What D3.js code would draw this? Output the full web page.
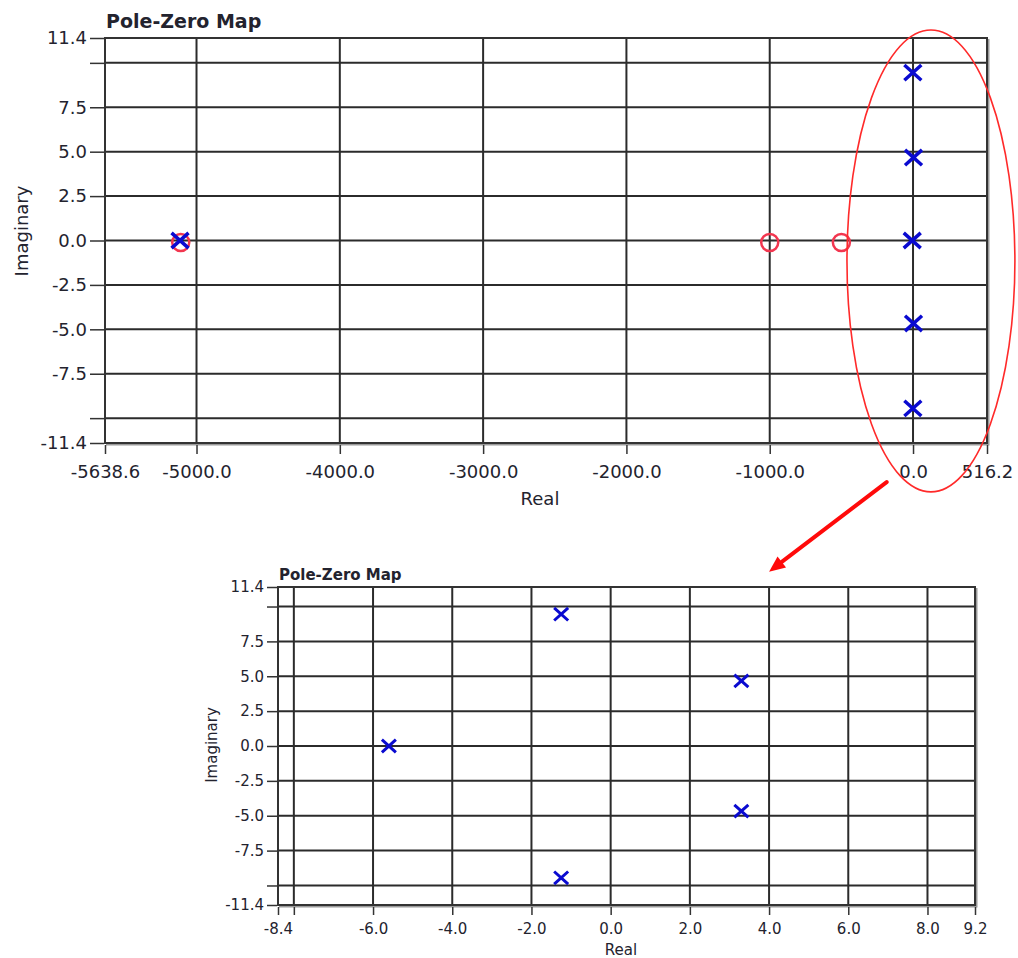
<!DOCTYPE html>
<html>
<head>
<meta charset="utf-8">
<script src="https://cdn.jsdelivr.net/npm/d3@7"></script>
<style>
  body { margin: 0; background: #fff; }
  text { font-family: "DejaVu Sans", sans-serif; fill: #23232e; }
</style>
</head>
<body>
<svg id="chart"></svg>
<script>
// poles and zeros (real, imaginary)
var poleRe = [-5115, -5.6, -1.25, -1.25, 3.3, 3.3];
var poleIm = [0, 0, 9.45, -9.45, 4.67, -4.67];
var zeroRe = [-5110, -1000, -500];
var zeroIm = [0, 0, 0];

// axis ranges and ticks
var topXDomain = [-5638.6, 516.2];
var topXTicks = [-5638.6, -5000, -4000, -3000, -2000, -1000, 0, 516.2];
var topXGrid = [-5000, -4000, -3000, -2000, -1000, 0];
var lowXDomain = [-8.4, 9.2];
var lowXTicks = [-8.4, -8, -6, -4, -2, 0, 2, 4, 6, 8, 9.2];
var lowXGrid = [-8, -6, -4, -2, 0, 2, 4, 6, 8];
var lowXHidden = [-8];
var yDomain = [-11.4, 11.4];
var yTicks = [-11.4, -10, -7.5, -5, -2.5, 0, 2.5, 5, 7.5, 10, 11.4];
var yGrid = [-10, -7.5, -5, -2.5, 0, 2.5, 5, 7.5, 10];
var yHidden = [10, -10];

// annotation: ellipse on the upper map (center re/im, radius re/im)
var ringCenter = [125, -1.15];
var ringRadius = [586, 13.0];
// arrow from upper map point to lower map point
var arrowFrom = [-184, -13.6];
var arrowTo = [4.0, 12.5];

function fmt(v) { return v.toFixed(1); }

function drawChart(svg, c) {
    var x = d3.scaleLinear().domain(c.xDomain).range([c.left, c.right]);
    var y = d3.scaleLinear().domain(yDomain).range([c.bottom, c.top]);
    var g = svg.append("g");

    //grid
    g.selectAll(".vgrid").data(c.xGrid).enter().append("line")
        .attr("x1", function(d) { return x(d); }).attr("x2", function(d) { return x(d); })
        .attr("y1", c.top).attr("y2", c.bottom)
        .attr("stroke", "#2b2b2b").attr("stroke-width", 2);
    g.selectAll(".hgrid").data(yGrid).enter().append("line")
        .attr("y1", function(d) { return y(d); }).attr("y2", function(d) { return y(d); })
        .attr("x1", c.left).attr("x2", c.right)
        .attr("stroke", "#2b2b2b").attr("stroke-width", 2);

    // frame with a grey shadow on right and bottom
    g.append("path")
        .attr("d", "M" + (c.right + 1.5) + "," + (c.top + 1) + "V" + (c.bottom + 1.5) + "H" + (c.left + 1))
        .attr("fill", "none").attr("stroke", "#9a9a9a").attr("stroke-width", 2);
    g.append("rect")
        .attr("x", c.left).attr("y", c.top)
        .attr("width", c.right - c.left).attr("height", c.bottom - c.top)
        .attr("fill", "none").attr("stroke", "#333").attr("stroke-width", 2);

    // axes
    var ya = g.append("g")
        .attr("transform", "translate(" + (c.left - 1) + ",0)")
        .call(d3.axisLeft(y).tickValues(yTicks).tickSize(c.yTick).tickPadding(3)
            .tickFormat(function(d) { return yHidden.indexOf(d) >= 0 ? "" : fmt(d); }));
    var xa = g.append("g")
        .attr("transform", "translate(0," + (c.bottom + 2) + ")")
        .call(d3.axisBottom(x).tickValues(c.xTicks).tickSize(c.xTick).tickPadding(c.xPad)
            .tickFormat(function(d) { return c.xHidden.indexOf(d) >= 0 ? "" : fmt(d); }));
    [ya, xa].forEach(function(a) {
        a.select(".domain").remove();
        a.selectAll("line").attr("stroke", "#333").attr("stroke-width", 1.5);
        a.selectAll("text").attr("font-size", c.font).attr("fill", "#23232e")
            .attr("font-family", "DejaVu Sans, sans-serif");
    });

    // titles
    g.append("text").attr("x", c.left + 1).attr("y", c.titleY)
        .attr("font-size", c.titleFont).attr("font-weight", "bold").text("Pole-Zero Map");
    g.append("text").attr("x", c.realX).attr("y", c.realY)
        .attr("text-anchor", "middle").attr("font-size", c.labelFont).attr("fill", "#3a3a44").text("Real");
    g.append("text")
        .attr("transform", "translate(" + c.imagX + "," + c.imagY + ") rotate(-90)")
        .attr("text-anchor", "middle").attr("font-size", c.labelFont).attr("fill", "#3a3a44").text("Imaginary");

    var inX = function(v) { return v >= c.xDomain[0] && v <= c.xDomain[1]; };

    // zeros
    var zeros = zeroRe.map(function(d, i) { return [d, zeroIm[i]]; }).filter(function(d) { return inX(d[0]); });
    g.selectAll(".zero").data(zeros).enter().append("circle")
        .attr("cx", function(d) { return x(d[0]); })
        .attr("cy", function(d) { return y(d[1]) + 2; })
        .attr("r", c.zeroR)
        .attr("fill", "none").attr("stroke", "#f2364f").attr("stroke-width", 2.5);

    // poles
    var poles = poleRe.map(function(d, i) { return [d, poleIm[i]]; }).filter(function(d) { return inX(d[0]); });
    var s = c.poleS;
    g.selectAll(".pole").data(poles).enter().append("path")
        .attr("d", function(d) {
            var px = x(d[0]), py = y(d[1]);
            return "M" + (px - s) + "," + (py - s * 0.9) + "L" + (px + s) + "," + (py + s * 0.9) +
                   "M" + (px - s) + "," + (py + s * 0.9) + "L" + (px + s) + "," + (py - s * 0.9);
        })
        .attr("stroke", "#0a0ad0").attr("stroke-width", c.poleW).attr("fill", "none");

    return {x: x, y: y};
}

function init() {
    var svg = d3.select("#chart").attr("width", 1018).attr("height", 958);

    var up = drawChart(svg, {
        left: 105, right: 987, top: 38, bottom: 443,
        xDomain: topXDomain, xTicks: topXTicks, xGrid: topXGrid, xHidden: [],
        yTick: 14, xTick: 9, xPad: 11, font: 18, titleFont: 19, labelFont: 18,
        titleY: 28, realX: 540, realY: 505, imagX: 28, imagY: 231,
        zeroR: 8.5, poleS: 8.5, poleW: 3.5
    });
    var low = drawChart(svg, {
        left: 278, right: 975, top: 587, bottom: 905,
        xDomain: lowXDomain, xTicks: lowXTicks, xGrid: lowXGrid, xHidden: lowXHidden,
        yTick: 10, xTick: 8, xPad: 8, font: 15, titleFont: 15, labelFont: 15,
        titleY: 580, realX: 621, realY: 955, imagX: 217, imagY: 745,
        zeroR: 7, poleS: 7, poleW: 3
    });

    // red ellipse around the poles near the origin
    var cx = up.x(ringCenter[0]), cy = up.y(ringCenter[1]);
    svg.append("ellipse")
        .attr("cx", cx).attr("cy", cy)
        .attr("rx", up.x(ringCenter[0] + ringRadius[0]) - cx)
        .attr("ry", cy - up.y(ringCenter[1] + ringRadius[1]))
        .attr("fill", "none").attr("stroke", "#ff2a2a").attr("stroke-width", 1.6);

    // arrow to the zoomed map
    var x1 = up.x(arrowFrom[0]), y1 = up.y(arrowFrom[1]);
    var x2 = low.x(arrowTo[0]), y2 = low.y(arrowTo[1]);
    var a = Math.atan2(y2 - y1, x2 - x1), hl = 16, hw = 7;
    var bx = x2 - hl * Math.cos(a), by = y2 - hl * Math.sin(a);
    svg.append("line")
        .attr("x1", x1).attr("y1", y1).attr("x2", bx).attr("y2", by)
        .attr("stroke", "#ff0a0a").attr("stroke-width", 4).attr("stroke-linecap", "round");
    svg.append("path")
        .attr("d", "M" + x2 + "," + y2 +
            "L" + (bx + hw * Math.sin(a)) + "," + (by - hw * Math.cos(a)) +
            "L" + (bx - hw * Math.sin(a)) + "," + (by + hw * Math.cos(a)) + "Z")
        .attr("fill", "#ff0a0a");
}
window.onload = init;
</script>
</body>
</html>
